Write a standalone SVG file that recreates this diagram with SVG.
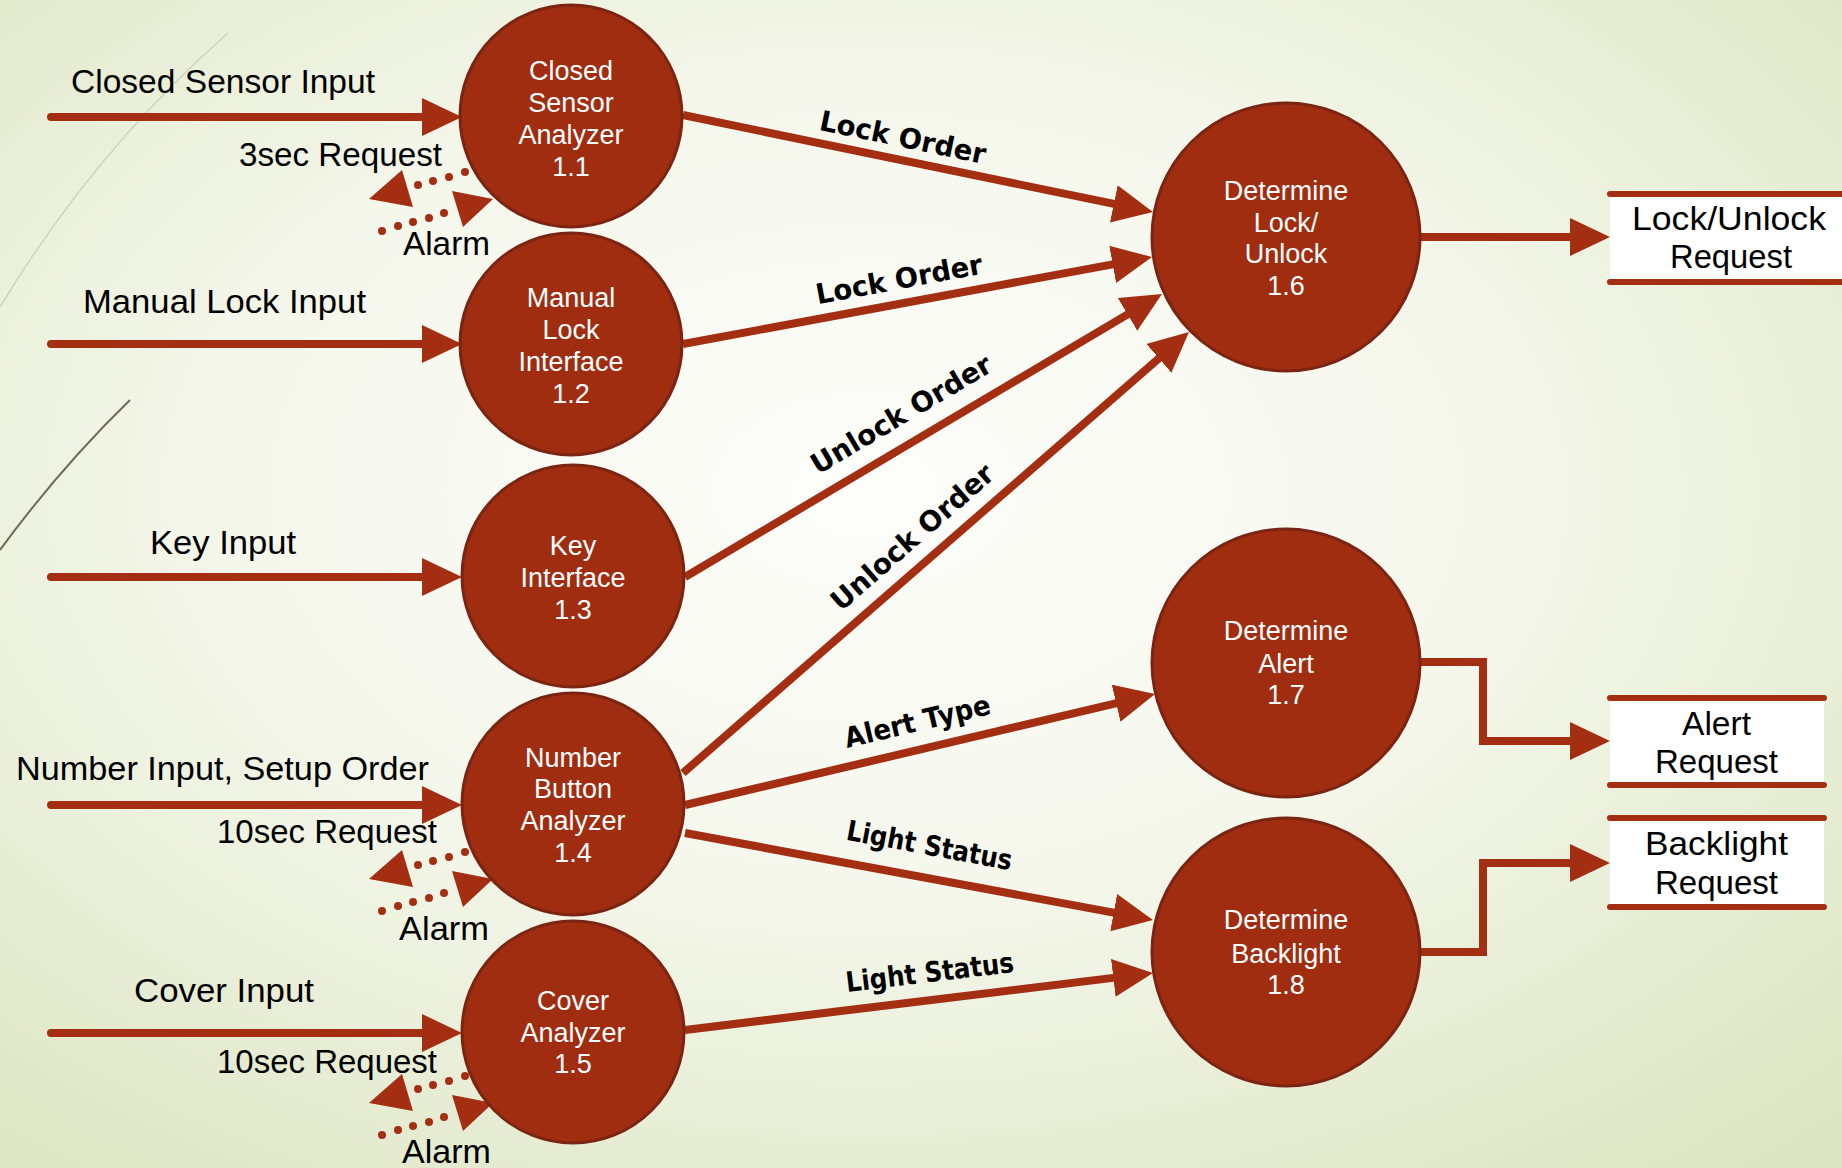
<svg xmlns="http://www.w3.org/2000/svg" width="1842" height="1168" viewBox="0 0 1842 1168">
<defs>
<radialGradient id="bg" cx="0.47" cy="0.42" r="0.75">
<stop offset="0" stop-color="#fdfdfa"/>
<stop offset="0.45" stop-color="#f5f7ec"/>
<stop offset="1" stop-color="#dce5c2"/>
</radialGradient>
<marker id="ah" viewBox="0 0 40 38" refX="4" refY="19" markerWidth="40" markerHeight="38" markerUnits="userSpaceOnUse" orient="auto">
<path d="M0,0 L40,19 L0,38 z" fill="#a32e12"/>
</marker>
<style>
.flow{fill:none;stroke:#a32e12;stroke-width:8;marker-end:url(#ah)}
.in{fill:none;stroke:#a32e12;stroke-width:8;stroke-linecap:round;marker-end:url(#ah)}
.node{fill:#a12d11;stroke:#7a2411;stroke-width:3}
.nt{font-family:"Liberation Sans",Arial,sans-serif;font-size:27px;fill:#ffffff;text-anchor:middle}
.lbl{font-family:"Liberation Sans",Arial,sans-serif;font-size:34px;fill:#000000}
.fl{font-family:"DejaVu Sans",Verdana,sans-serif;font-weight:bold;font-size:28px;fill:#000000;text-anchor:middle}
.dot{fill:#a32e12}
.tri{fill:#a32e12}
.bl{stroke:#a32e12;stroke-width:6;stroke-linecap:round}
</style>
</defs>
<rect x="0" y="0" width="1842" height="1168" fill="url(#bg)"/>
<path d="M0,307 Q95,150 228,33" fill="none" stroke="#cdd3bd" stroke-width="1.5"/>
<path d="M0,550 Q60,468 130,400" fill="none" stroke="#6e6a50" stroke-width="2"/>

<g id="connectors">
<line class="in" x1="51" y1="117" x2="426" y2="117"/>
<line class="in" x1="51" y1="344" x2="426" y2="344"/>
<line class="in" x1="51" y1="577" x2="426" y2="577"/>
<line class="in" x1="51" y1="805" x2="426" y2="805"/>
<line class="in" x1="51" y1="1033" x2="426" y2="1033"/>
<line class="flow" x1="683" y1="115" x2="1117.7" y2="204.7"/>
<line class="flow" x1="683" y1="344" x2="1116.6" y2="263.6"/>
<line class="flow" x1="685" y1="577" x2="1131.0" y2="312.4"/>
<line class="flow" x1="683" y1="773" x2="1161.9" y2="355.7"/>
<line class="flow" x1="685" y1="805" x2="1120.0" y2="702.3"/>
<line class="flow" x1="685" y1="833" x2="1117.6" y2="913.4"/>
<line class="flow" x1="685" y1="1030" x2="1117.3" y2="977.4"/>
<line class="flow" x1="1420" y1="237" x2="1574" y2="237"/>
<path class="flow" d="M1420,662 H1483 V741 H1574"/>
<path class="flow" d="M1420,952 H1483 V863 H1574"/>
<g id="dotted-1-1">
<polygon class="tri" points="369,199 402,170 413,207"/>
<circle class="dot" cx="482" cy="168" r="4"/><circle class="dot" cx="465" cy="172" r="4"/><circle class="dot" cx="449" cy="177" r="4"/><circle class="dot" cx="433" cy="181" r="4"/><circle class="dot" cx="418" cy="185" r="4"/>
<polygon class="tri" points="493,199 452,191 463,227"/>
<circle class="dot" cx="444" cy="213" r="4"/><circle class="dot" cx="429" cy="218" r="4"/><circle class="dot" cx="413" cy="222" r="4"/><circle class="dot" cx="398" cy="226" r="4"/><circle class="dot" cx="382" cy="231" r="4"/>
</g>
<g id="dotted-1-4" transform="translate(0,680)">
<polygon class="tri" points="369,199 402,170 413,207"/>
<circle class="dot" cx="482" cy="168" r="4"/><circle class="dot" cx="465" cy="172" r="4"/><circle class="dot" cx="449" cy="177" r="4"/><circle class="dot" cx="433" cy="181" r="4"/><circle class="dot" cx="418" cy="185" r="4"/>
<polygon class="tri" points="493,199 452,191 463,227"/>
<circle class="dot" cx="444" cy="213" r="4"/><circle class="dot" cx="429" cy="218" r="4"/><circle class="dot" cx="413" cy="222" r="4"/><circle class="dot" cx="398" cy="226" r="4"/><circle class="dot" cx="382" cy="231" r="4"/>
</g>
<g id="dotted-1-5" transform="translate(0,904)">
<polygon class="tri" points="369,199 402,170 413,207"/>
<circle class="dot" cx="482" cy="168" r="4"/><circle class="dot" cx="465" cy="172" r="4"/><circle class="dot" cx="449" cy="177" r="4"/><circle class="dot" cx="433" cy="181" r="4"/><circle class="dot" cx="418" cy="185" r="4"/>
<polygon class="tri" points="493,199 452,191 463,227"/>
<circle class="dot" cx="444" cy="213" r="4"/><circle class="dot" cx="429" cy="218" r="4"/><circle class="dot" cx="413" cy="222" r="4"/><circle class="dot" cx="398" cy="226" r="4"/><circle class="dot" cx="382" cy="231" r="4"/>
</g>
</g>

<g id="labels">
<text class="lbl" x="71" y="93" textLength="304" lengthAdjust="spacingAndGlyphs">Closed Sensor Input</text>
<text class="lbl" x="239" y="166" textLength="203" lengthAdjust="spacingAndGlyphs">3sec Request</text>
<text class="lbl" x="403" y="255" textLength="87" lengthAdjust="spacingAndGlyphs">Alarm</text>
<text class="lbl" x="83" y="313" textLength="283" lengthAdjust="spacingAndGlyphs">Manual Lock Input</text>
<text class="lbl" x="150" y="554" textLength="146" lengthAdjust="spacingAndGlyphs">Key Input</text>
<text class="lbl" x="16" y="780" textLength="413" lengthAdjust="spacingAndGlyphs">Number Input, Setup Order</text>
<text class="lbl" x="217" y="843" textLength="220" lengthAdjust="spacingAndGlyphs">10sec Request</text>
<text class="lbl" x="399" y="940" textLength="90" lengthAdjust="spacingAndGlyphs">Alarm</text>
<text class="lbl" x="134" y="1002" textLength="180" lengthAdjust="spacingAndGlyphs">Cover Input</text>
<text class="lbl" x="217" y="1073" textLength="220" lengthAdjust="spacingAndGlyphs">10sec Request</text>
<text class="lbl" x="402" y="1163" textLength="89" lengthAdjust="spacingAndGlyphs">Alarm</text>
<text class="fl" transform="translate(903,137) rotate(11.66)" y="10" textLength="169" lengthAdjust="spacingAndGlyphs">Lock Order</text>
<text class="fl" transform="translate(899,279) rotate(-10.5)" y="10" textLength="169" lengthAdjust="spacingAndGlyphs">Lock Order</text>
<text class="fl" transform="translate(901,414) rotate(-30.7)" y="10" textLength="205" lengthAdjust="spacingAndGlyphs">Unlock Order</text>
<text class="fl" transform="translate(912,537) rotate(-41.1)" y="10" textLength="206" lengthAdjust="spacingAndGlyphs">Unlock Order</text>
<text class="fl" transform="translate(918,724) rotate(-13.3)" y="7" textLength="149" lengthAdjust="spacingAndGlyphs">Alert Type</text>
<text class="fl" transform="translate(929,848) rotate(10.5)" y="7" textLength="168" lengthAdjust="spacingAndGlyphs">Light Status</text>
<text class="fl" transform="translate(930,975) rotate(-6.9)" y="7" textLength="169" lengthAdjust="spacingAndGlyphs">Light Status</text>
</g>

<g id="node-1-1">
<circle class="node" cx="571" cy="116" r="111"/>
<text class="nt" x="571" y="80">Closed</text><text class="nt" x="571" y="112">Sensor</text><text class="nt" x="571" y="144">Analyzer</text><text class="nt" x="571" y="176">1.1</text>
</g>
<g id="node-1-2">
<circle class="node" cx="571" cy="344" r="111"/>
<text class="nt" x="571" y="307">Manual</text><text class="nt" x="571" y="339">Lock</text><text class="nt" x="571" y="371">Interface</text><text class="nt" x="571" y="403">1.2</text>
</g>
<g id="node-1-3">
<circle class="node" cx="573" cy="576" r="111"/>
<text class="nt" x="573" y="555">Key</text><text class="nt" x="573" y="587">Interface</text><text class="nt" x="573" y="619">1.3</text>
</g>
<g id="node-1-4">
<circle class="node" cx="573" cy="804" r="111"/>
<text class="nt" x="573" y="767">Number</text><text class="nt" x="573" y="798">Button</text><text class="nt" x="573" y="830">Analyzer</text><text class="nt" x="573" y="862">1.4</text>
</g>
<g id="node-1-5">
<circle class="node" cx="573" cy="1032" r="111"/>
<text class="nt" x="573" y="1010">Cover</text><text class="nt" x="573" y="1042">Analyzer</text><text class="nt" x="573" y="1073">1.5</text>
</g>
<g id="node-1-6">
<circle class="node" cx="1286" cy="237" r="134"/>
<text class="nt" x="1286" y="200">Determine</text><text class="nt" x="1286" y="232">Lock/</text><text class="nt" x="1286" y="263">Unlock</text><text class="nt" x="1286" y="295">1.6</text>
</g>
<g id="node-1-7">
<circle class="node" cx="1286" cy="663" r="134"/>
<text class="nt" x="1286" y="640">Determine</text><text class="nt" x="1286" y="673">Alert</text><text class="nt" x="1286" y="704">1.7</text>
</g>
<g id="node-1-8">
<circle class="node" cx="1286" cy="952" r="134"/>
<text class="nt" x="1286" y="929">Determine</text><text class="nt" x="1286" y="963">Backlight</text><text class="nt" x="1286" y="994">1.8</text>
</g>

<g id="store-lock-unlock">
<rect x="1610" y="194" width="232" height="88" fill="#ffffff"/>
<line class="bl" x1="1610" y1="194" x2="1845" y2="194"/><line class="bl" x1="1610" y1="282" x2="1845" y2="282"/>
<text class="lbl" x="1632" y="230" textLength="194" lengthAdjust="spacingAndGlyphs">Lock/Unlock</text>
<text class="lbl" x="1670" y="268" textLength="122" lengthAdjust="spacingAndGlyphs">Request</text>
</g>
<g id="store-alert">
<rect x="1610" y="698" width="214" height="87" fill="#ffffff"/>
<line class="bl" x1="1610" y1="698" x2="1824" y2="698"/><line class="bl" x1="1610" y1="785" x2="1824" y2="785"/>
<text class="lbl" x="1682" y="735" textLength="69" lengthAdjust="spacingAndGlyphs">Alert</text>
<text class="lbl" x="1655" y="773" textLength="123" lengthAdjust="spacingAndGlyphs">Request</text>
</g>
<g id="store-backlight">
<rect x="1610" y="818" width="214" height="89" fill="#ffffff"/>
<line class="bl" x1="1610" y1="818" x2="1824" y2="818"/><line class="bl" x1="1610" y1="907" x2="1824" y2="907"/>
<text class="lbl" x="1645" y="855" textLength="143" lengthAdjust="spacingAndGlyphs">Backlight</text>
<text class="lbl" x="1655" y="894" textLength="123" lengthAdjust="spacingAndGlyphs">Request</text>
</g>
</svg>
